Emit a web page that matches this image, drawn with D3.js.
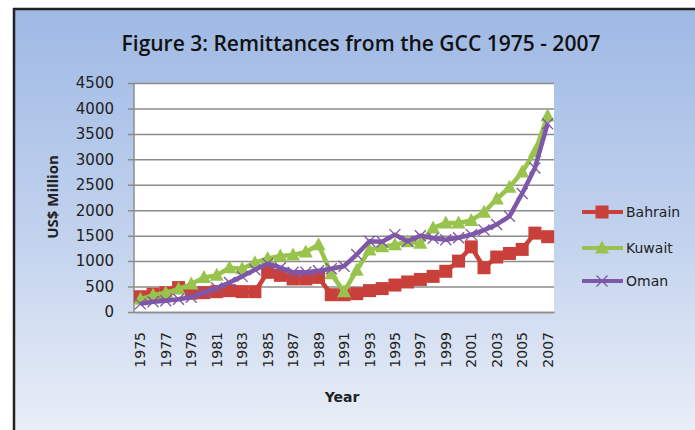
<!DOCTYPE html>
<html>
<head>
<meta charset="utf-8">
<script src="https://cdn.jsdelivr.net/npm/d3@7"></script>
<style>
  body { margin: 0; background: #fff; }
  svg { display: block; }
</style>
</head>
<body>
<div id="chart"></div>
<script>
/************ remittances line chart *****************/

const years = d3.range(1975, 2008);
const yTicks = [0, 500, 1000, 1500, 2000, 2500, 3000, 3500, 4000, 4500];

const bahrain = [300, 350, 380, 480, 370, 380, 400, 420, 400, 400, 780, 720, 650, 650, 680,
  340, 340, 360, 420, 460, 530, 590, 640, 700, 800, 1000, 1280, 870, 1080, 1150, 1230, 1550, 1480];
const kuwait = [250, 330, 380, 450, 550, 680, 720, 870, 850, 970, 1050, 1100, 1120, 1180, 1320,
  750, 400, 820, 1220, 1280, 1320, 1380, 1350, 1650, 1750, 1750, 1800, 1960, 2220, 2450, 2750, 3150, 3850];
const oman = [160, 200, 220, 250, 290, 380, 470, 580, 700, 830, 950, 870, 780, 780, 810,
  850, 900, 1130, 1390, 1380, 1520, 1390, 1500, 1450, 1420, 1460, 1520, 1610, 1720, 1880, 2330, 2830, 3700];

const seriesNames = ["Bahrain", "Kuwait", "Oman"];
const seriesValues = [bahrain, kuwait, oman];
const colors = ["#c9403b", "#98c34d", "#7e57a8"];
const markers = ["square", "triangle", "cross"];

const W = 695, H = 430;
const plot = {left: 134, right: 554, top: 83, bottom: 312};

const svg = d3.select("#chart").append("svg")
    .attr("width", W)
    .attr("height", H);

const defs = svg.append("defs");
const grad = defs.append("linearGradient")
    .attr("id", "bg").attr("x1", 0).attr("y1", 0).attr("x2", 0).attr("y2", 1);
grad.append("stop").attr("offset", "0%").attr("stop-color", "#9fb9e4");
grad.append("stop").attr("offset", "55%").attr("stop-color", "#c3d3ee");
grad.append("stop").attr("offset", "100%").attr("stop-color", "#e9eef7");

// frame
svg.append("rect").attr("x", 15).attr("y", 10).attr("width", W - 15).attr("height", H - 10)
    .attr("fill", "url(#bg)");
svg.append("line").attr("x1", 13).attr("x2", W).attr("y1", 9).attr("y2", 9)
    .attr("stroke", "#222").attr("stroke-width", 2.5);
svg.append("line").attr("x1", 14).attr("x2", 14).attr("y1", 8).attr("y2", H)
    .attr("stroke", "#222").attr("stroke-width", 2.5);

svg.append("text")
    .attr("x", 361).attr("y", 51)
    .attr("text-anchor", "middle")
    .attr("font-family", "Open Sans")
    .attr("font-weight", 600)
    .attr("font-size", 21)
    .attr("fill", "#111")
    .text("Figure 3: Remittances from the GCC 1975 - 2007");

const x = d3.scaleBand().domain(years).range([plot.left, plot.right]);
const y = d3.scaleLinear().domain([0, 4500]).range([plot.bottom, plot.top]);

svg.append("rect")
    .attr("x", plot.left).attr("y", plot.top)
    .attr("width", plot.right - plot.left).attr("height", plot.bottom - plot.top)
    .attr("fill", "#fff");

// gridlines + y axis
const yAxis = d3.axisLeft(y).tickValues(yTicks).tickFormat(d3.format("d"))
    .tickSize(-(plot.right - plot.left + 6)).tickSizeOuter(0).tickPadding(14);
const gy = svg.append("g")
    .attr("transform", "translate(" + (plot.left - 6) + ",0)")
    .call(yAxis);
gy.select(".domain").remove();
gy.selectAll(".tick line").attr("stroke", "#8c8c8c").attr("stroke-width", 1.5);
gy.selectAll(".tick text")
    .attr("font-family", "DejaVu Sans").attr("font-size", 15).attr("fill", "#222");

svg.append("line")
    .attr("x1", plot.left).attr("x2", plot.left)
    .attr("y1", plot.top).attr("y2", plot.bottom)
    .attr("stroke", "#8c8c8c").attr("stroke-width", 1.5);

// x axis
const xAxis = d3.axisBottom(x)
    .tickValues(years.filter(function(d) { return (d - 1975) % 2 === 0; }))
    .tickSize(0).tickPadding(0);
const gx = svg.append("g")
    .attr("transform", "translate(0," + plot.bottom + ")")
    .call(xAxis);
gx.select(".domain").attr("stroke", "#8c8c8c").attr("stroke-width", 1.5);
gx.selectAll(".tick text")
    .attr("font-family", "DejaVu Sans").attr("font-size", 14).attr("fill", "#222")
    .attr("text-anchor", "end")
    .attr("transform", "rotate(-90)")
    .attr("x", -20).attr("y", 0).attr("dy", "0.36em");

svg.append("text")
    .attr("transform", "translate(58,197) rotate(-90)")
    .attr("text-anchor", "middle")
    .attr("font-family", "Open Sans").attr("font-weight", "bold").attr("font-size", 15)
    .attr("fill", "#222")
    .text("US$ Million");

svg.append("text")
    .attr("x", 342).attr("y", 402)
    .attr("text-anchor", "middle")
    .attr("font-family", "DejaVu Sans").attr("font-weight", "bold").attr("font-size", 14)
    .attr("fill", "#222")
    .text("Year");

function drawMarker(g, type, color) {
  if (type === "square") {
    g.append("rect").attr("x", -6.5).attr("y", -6.5).attr("width", 13).attr("height", 13)
        .attr("fill", color);
  } else if (type === "triangle") {
    g.append("path").attr("d", "M0,-7.5L7,5.5L-7,5.5Z").attr("fill", color);
  } else {
    g.append("path").attr("d", "M-5.5,-5.5L5.5,5.5M-5.5,5.5L5.5,-5.5")
        .attr("stroke", color).attr("stroke-width", 1.3).attr("fill", "none");
  }
}

const line = d3.line()
    .x(function(d, i) { return x(years[i]) + x.bandwidth() / 2; })
    .y(function(d) { return y(d); });

seriesValues.forEach(function(vals, s) {
  const g = svg.append("g");
  g.append("path")
      .datum(vals)
      .attr("d", line)
      .attr("fill", "none")
      .attr("stroke", colors[s])
      .attr("stroke-width", 4.5)
      .attr("stroke-linejoin", "round");
  g.selectAll("g.marker")
      .data(vals)
      .enter().append("g")
      .attr("class", "marker")
      .attr("transform", function(d, i) {
        return "translate(" + (x(years[i]) + x.bandwidth() / 2) + "," + y(d) + ")";
      })
      .each(function() { drawMarker(d3.select(this), markers[s], colors[s]); });
});

// legend
const legendY = [212, 248, 281];
seriesNames.forEach(function(name, s) {
  const lg = svg.append("g").attr("transform", "translate(582," + legendY[s] + ")");
  lg.append("line").attr("x1", 0).attr("x2", 41)
      .attr("stroke", colors[s]).attr("stroke-width", 4);
  drawMarker(lg.append("g").attr("transform", "translate(20,0)"), markers[s], colors[s]);
  lg.append("text")
      .attr("x", 44).attr("dy", "0.36em")
      .attr("font-family", "DejaVu Sans").attr("font-size", 14).attr("fill", "#222")
      .text(name);
});
</script>
</body>
</html>
